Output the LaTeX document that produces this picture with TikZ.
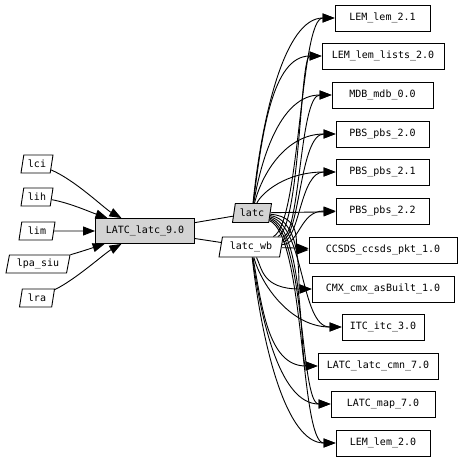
\documentclass[tikz,border=0pt]{standalone}
\usepackage{fontspec}
\newfontfamily\graphfont{DejaVu Sans Mono}
\usetikzlibrary{shapes.geometric,arrows.meta,backgrounds}
\definecolor{nodegray}{RGB}{211,211,211}
\begin{document}
\begin{tikzpicture}[x=1bp,y=-1bp,
  every node/.style={font=\graphfont\fontsize{10bp}{12bp}\selectfont, line width=0.9bp},
  box/.style={draw, fill=white, rectangle, minimum height=26bp, inner sep=1bp},
  para/.style={draw, fill=white, trapezium, trapezium left angle=74, trapezium right angle=106,
    trapezium stretches body, minimum height=18bp, inner xsep=1bp, inner ysep=1bp},
  edgearrow/.style={line width=0.9bp, -{Triangle[length=12bp,width=9bp]}},
  plainline/.style={line width=0.9bp}]
\useasboundingbox (0,0) rectangle (461,460);

% left nodes
\node[para, minimum width=32bp] (lci) at (37,164) {lci};
\node[para, minimum width=32bp] (lih) at (37,197) {lih};
\node[para, minimum width=36bp] (lim) at (37,231) {lim};
\node[para, minimum width=64bp] (lpa) at (38,264) {lpa\_siu};
\node[para, minimum width=35bp] (lra) at (37,298) {lra};

\node[box, fill=nodegray, minimum width=99bp, minimum height=25bp] (LATC) at (145,231) {LATC\_latc\_9.0};

\node[para, fill=nodegray, minimum width=39bp, minimum height=19bp] (latc) at (252,213) {latc};
\node[para, minimum width=64bp, minimum height=20bp] (latcwb) at (251,247) {latc\_wb};

% right nodes
\node[box, minimum width=95bp]  (r1)  at (382.5,18)  {LEM\_lem\_2.1};
\node[box, minimum width=122bp] (r2)  at (383,56)    {LEM\_lem\_lists\_2.0};
\node[box, minimum width=101bp] (r3)  at (382.5,95)  {MDB\_mdb\_0.0};
\node[box, minimum width=93bp]  (r4)  at (382.5,134) {PBS\_pbs\_2.0};
\node[box, minimum width=93bp]  (r5)  at (382.5,172) {PBS\_pbs\_2.1};
\node[box, minimum width=93bp]  (r6)  at (382.5,211) {PBS\_pbs\_2.2};
\node[box, minimum width=148bp] (r7)  at (383,250)   {CCSDS\_ccsds\_pkt\_1.0};
\node[box, minimum width=142bp] (r8)  at (383,289)   {CMX\_cmx\_asBuilt\_1.0};
\node[box, minimum width=82bp]  (r9)  at (383,327)   {ITC\_itc\_3.0};
\node[box, minimum width=120bp] (r10) at (378,366)   {LATC\_latc\_cmn\_7.0};
\node[box, minimum width=104bp] (r11) at (383,404)   {LATC\_map\_7.0};
\node[box, minimum width=94bp]  (r12) at (383,443)   {LEM\_lem\_2.0};

\begin{scope}[on background layer]
% left edges
\draw[edgearrow] (lci) .. controls (75,180) and (105,209) .. (LATC);
\draw[edgearrow] (lih) .. controls (70,203) and (90,212) .. (LATC);
\draw[edgearrow] (lim) -- (LATC);
\draw[edgearrow] (lpa) .. controls (80,252) and (92,248) .. (LATC);
\draw[edgearrow] (lra) .. controls (75,280) and (105,253) .. (LATC);

% LATC to latc / latc_wb
\draw[plainline] (LATC) -- (latc);
\draw[plainline] (LATC) -- (latcwb);

% latc: steep route upwards, wide route downwards
\foreach \t/\ty/\tx in {r1/18/335, r2/56/322, r3/95/332, r4/134/336, r5/172/336}
  \draw[edgearrow] (latc) .. controls (262,{213+0.5*(\ty-213)}) and ({\tx-50},\ty) .. (\t);
\draw[edgearrow] (latc) -- (r6);
\foreach \t/\ty/\tx in {r7/250/309, r8/289/312, r9/327/342, r10/366/318, r11/404/331, r12/443/336}
  \draw[edgearrow] (latc) .. controls (305,{213+0.1*(\ty-213)}) and ({min(300,\tx-15)},\ty) .. (\t);

% latc_wb: wide route upwards, steep route downwards
\foreach \t/\ty/\tx in {r1/18/335, r2/56/322, r3/95/332, r4/134/336, r5/172/336, r6/211/336}
  \draw[edgearrow] (latcwb) .. controls (300,{247+0.1*(\ty-247)}) and ({min(300,\tx-15)},\ty) .. (\t);
\draw[edgearrow] (latcwb) -- (r7);
\foreach \t/\ty/\tx in {r8/289/312, r9/327/342, r10/366/318, r11/404/331, r12/443/336}
  \draw[edgearrow] (latcwb) .. controls (262,{247+0.5*(\ty-247)}) and ({\tx-50},\ty) .. (\t);
\end{scope}
\end{tikzpicture}
\end{document}
